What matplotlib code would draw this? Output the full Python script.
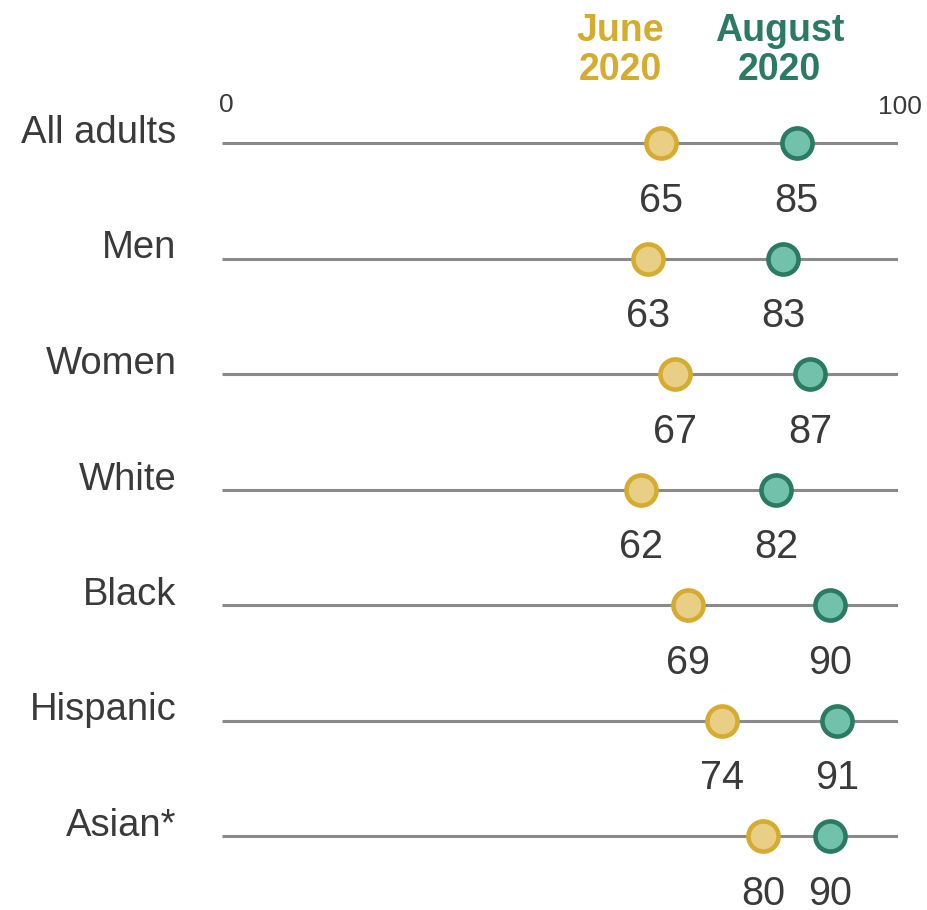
import matplotlib
matplotlib.use("Agg")
import matplotlib.pyplot as plt
from matplotlib import font_manager

categories = ["All adults", "Men", "Women", "White", "Black", "Hispanic", "Asian*"]
june = [65, 63, 67, 62, 69, 74, 80]
august = [85, 83, 87, 82, 90, 91, 90]
series_names = ["June\n2020", "August\n2020"]
tick_labels = ["0", "100"]

W, H = 928, 910
fig = plt.figure(figsize=(W / 100, H / 100), dpi=100)
x0, x1 = 222, 898
y_first, step = 143, 115.5
ax = fig.add_axes([x0 / W, 0, (x1 - x0) / W, 1])
ax.set_xlim(0, 100)
ax.set_ylim((H - y_first) / step, -y_first / step)
ax.axis("off")

names = {f.name for f in font_manager.fontManager.ttflist}
body = "Liberation Sans"
head = "Liberation Sans Narrow" if "Liberation Sans Narrow" in names else "Liberation Sans"

jfill, jedge = "#e9cf85", "#d6ac30"
afill, aedge = "#72c2ab", "#2b7a62"
line_c = "#8a8a8a"
txt = "#3a3a3a"

for i, cat in enumerate(categories):
    ax.plot([0, 100], [i, i], color=line_c, lw=2.2, solid_capstyle="butt", zorder=1)
    ax.scatter([june[i]], [i], s=470, facecolor=jfill, edgecolor=jedge, linewidths=3.3, zorder=3)
    ax.scatter([august[i]], [i], s=470, facecolor=afill, edgecolor=aedge, linewidths=3.3, zorder=3)
    ax.text(-6.7, i, cat, ha="right", va="baseline", fontsize=27.5, family=body, color=txt)
    for v in (june[i], august[i]):
        ax.text(v, i + 0.5, str(v), ha="center", va="center", fontsize=28.5, family=body, color=txt)

ax.text(0.6, -0.33, tick_labels[0], ha="center", va="center", fontsize=19, family=body, color=txt)
ax.text(100.3, -0.31, tick_labels[1], ha="center", va="center", fontsize=19, family=body, color=txt)

ax.text(58.9, -0.8, series_names[0], ha="center", va="center", fontsize=27, family=head,
        weight="bold", color=jedge, linespacing=1.12)
ax.text(82.5, -0.8, series_names[1], ha="center", va="center", fontsize=27, family=head,
        weight="bold", color=aedge, linespacing=1.12)

fig.savefig("out.png", dpi=100)
